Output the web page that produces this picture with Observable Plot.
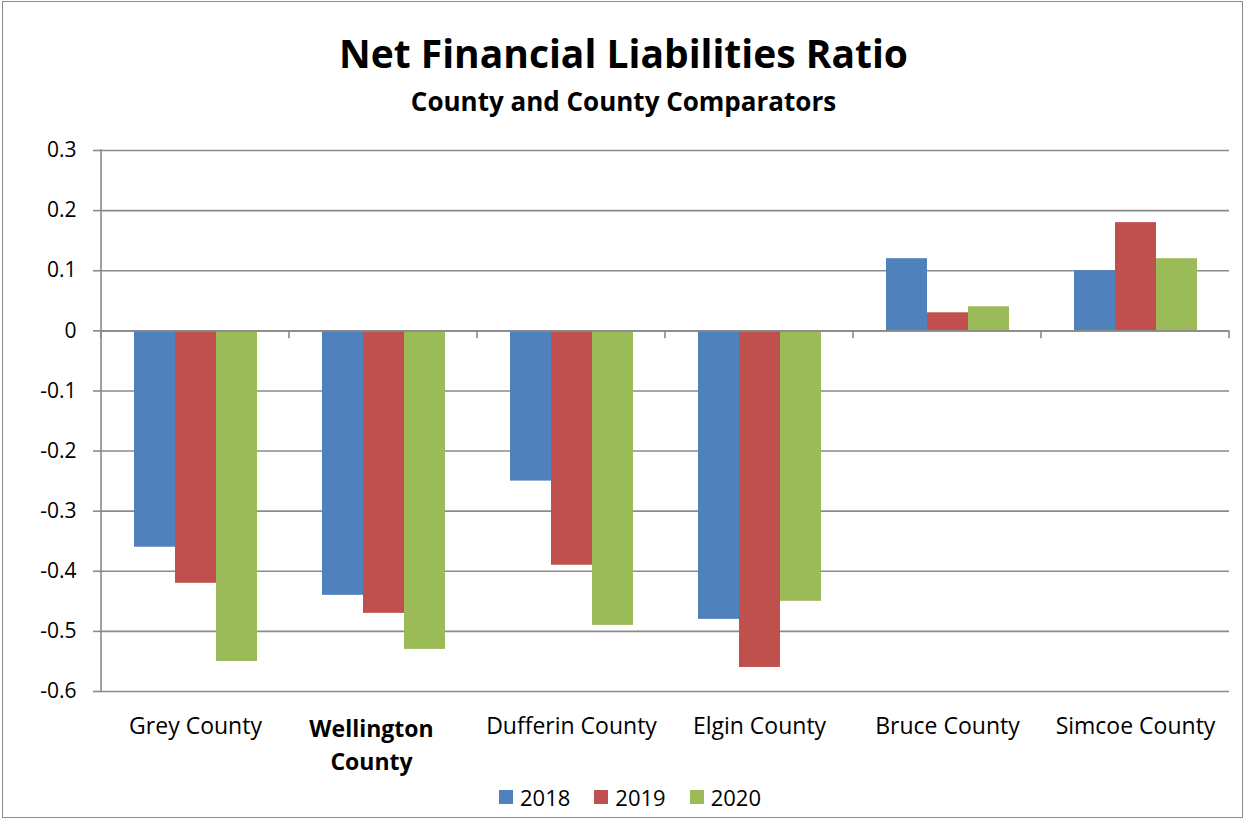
<!DOCTYPE html>
<html>
<head>
<meta charset="utf-8">
<script src="https://cdn.jsdelivr.net/npm/d3@7"></script>
<script src="https://cdn.jsdelivr.net/npm/@observablehq/plot@0.6"></script>
<style>
  html, body { margin: 0; padding: 0; background: #fff; color: #000; font-family: "Open Sans", sans-serif; }
  #frame { position: absolute; left: 2px; top: 1px; width: 1239px; height: 815px; border: 1.5px solid #8c8c8c; }
  #title { position: absolute; left: 0; width: 1247px; top: 27px; text-align: center; font-weight: bold; font-size: 39px; line-height: 52px; }
  #subtitle { position: absolute; left: 0; width: 1247px; top: 84px; text-align: center; font-weight: bold; font-size: 26px; line-height: 34px; }
  #chart { position: absolute; left: 0; top: 130px; }
  #legend { position: absolute; left: 499px; top: 783px; display: flex; align-items: center; font-size: 22px; line-height: 28px; }
  #legend .item { display: flex; align-items: center; margin-right: 24px; }
  #legend .sw { width: 14px; height: 14px; margin-right: 7px; }
</style>
</head>
<body>
<div id="frame"></div>
<div id="title">Net Financial Liabilities Ratio</div>
<div id="subtitle">County and County Comparators</div>
<div id="chart"></div>
<div id="legend"></div>
<script>
const counties = ["Grey County", "Wellington County", "Dufferin County", "Elgin County", "Bruce County", "Simcoe County"];
const countyLabels = ["Grey County", "Wellington\nCounty", "Dufferin County", "Elgin County", "Bruce County", "Simcoe County"];
const years = ["2018", "2019", "2020"];
const v2018 = [-0.36, -0.44, -0.25, -0.48, 0.12, 0.10];
const v2019 = [-0.42, -0.47, -0.39, -0.56, 0.03, 0.18];
const v2020 = [-0.55, -0.53, -0.49, -0.45, 0.04, 0.12];
const colors = ["#4F81BD", "#C0504D", "#9BBB59"];
const yTicks = [0.3, 0.2, 0.1, 0, -0.1, -0.2, -0.3, -0.4, -0.5, -0.6];
const yTickLabels = ["0.3", "0.2", "0.1", "0", "-0.1", "-0.2", "-0.3", "-0.4", "-0.5", "-0.6"];

const series = [v2018, v2019, v2020];
const data = counties.flatMap((c, i) => years.map((yr, j) => ({county: c, year: yr, value: series[j][i]})));

const gridColor = "#8a8a8a";

const chart = Plot.plot({
  width: 1247,
  height: 660,
  marginTop: 20,
  marginBottom: 99,
  marginLeft: 100,
  marginRight: 17,
  style: {fontFamily: "Open Sans, sans-serif", color: "#000", background: "transparent"},
  fx: {domain: counties, padding: 0},
  x: {domain: years, paddingInner: 0, paddingOuter: 0.75, axis: null},
  y: {domain: [-0.6, 0.3]},
  color: {domain: years, range: colors},
  marks: [
    Plot.gridY(yTicks, {stroke: gridColor, strokeOpacity: 1, strokeWidth: 1.6}),
    Plot.barY(data, {fx: "county", x: "year", y: "value", fill: "year"}),
    Plot.ruleY([0], {stroke: gridColor, strokeWidth: 1.6}),
    Plot.axisY(yTicks, {
      tickSize: 8, tickPadding: 17, stroke: gridColor, strokeWidth: 1.6, fontSize: 21,
      tickFormat: (d) => yTickLabels[yTicks.indexOf(d)], label: null
    }),
    Plot.axisFx({
      anchor: "bottom", tickSize: 0, tickPadding: 20, fontSize: 23, label: null,
      tickFormat: (d) => countyLabels[counties.indexOf(d)], lineHeight: 1.4
    })
  ]
});

document.getElementById("chart").appendChild(chart);

// axis line and category boundary ticks, positioned through Plot's scales
const svg = d3.select(chart);
const fx = chart.scale("fx");
const ys = chart.scale("y");
const y0 = ys.apply(0);
const edges = counties.map((c) => fx.apply(c)).concat([fx.apply(counties[counties.length - 1]) + fx.bandwidth]);
const g = svg.append("g").attr("stroke", gridColor).attr("stroke-width", 1.6);
g.append("line").attr("x1", edges[0]).attr("x2", edges[0]).attr("y1", ys.apply(0.3) - 0.8).attr("y2", ys.apply(-0.6) + 0.8);
edges.forEach((e) => g.append("line").attr("x1", e).attr("x2", e).attr("y1", y0).attr("y2", y0 + 8));

// bold for Wellington, nudged slightly as in the original
svg.selectAll("text").each(function () {
  if (this.textContent.startsWith("Wellington")) {
    this.setAttribute("font-weight", "bold");
    const t = this.getAttribute("transform") || "";
    this.setAttribute("transform", (t + " translate(-12,3)").trim());
  }
});

// legend
const legend = d3.select("#legend");
years.forEach((yr, i) => {
  const it = legend.append("div").attr("class", "item");
  it.append("div").attr("class", "sw").style("background", colors[i]);
  it.append("span").text(yr);
});
</script>
</body>
</html>
